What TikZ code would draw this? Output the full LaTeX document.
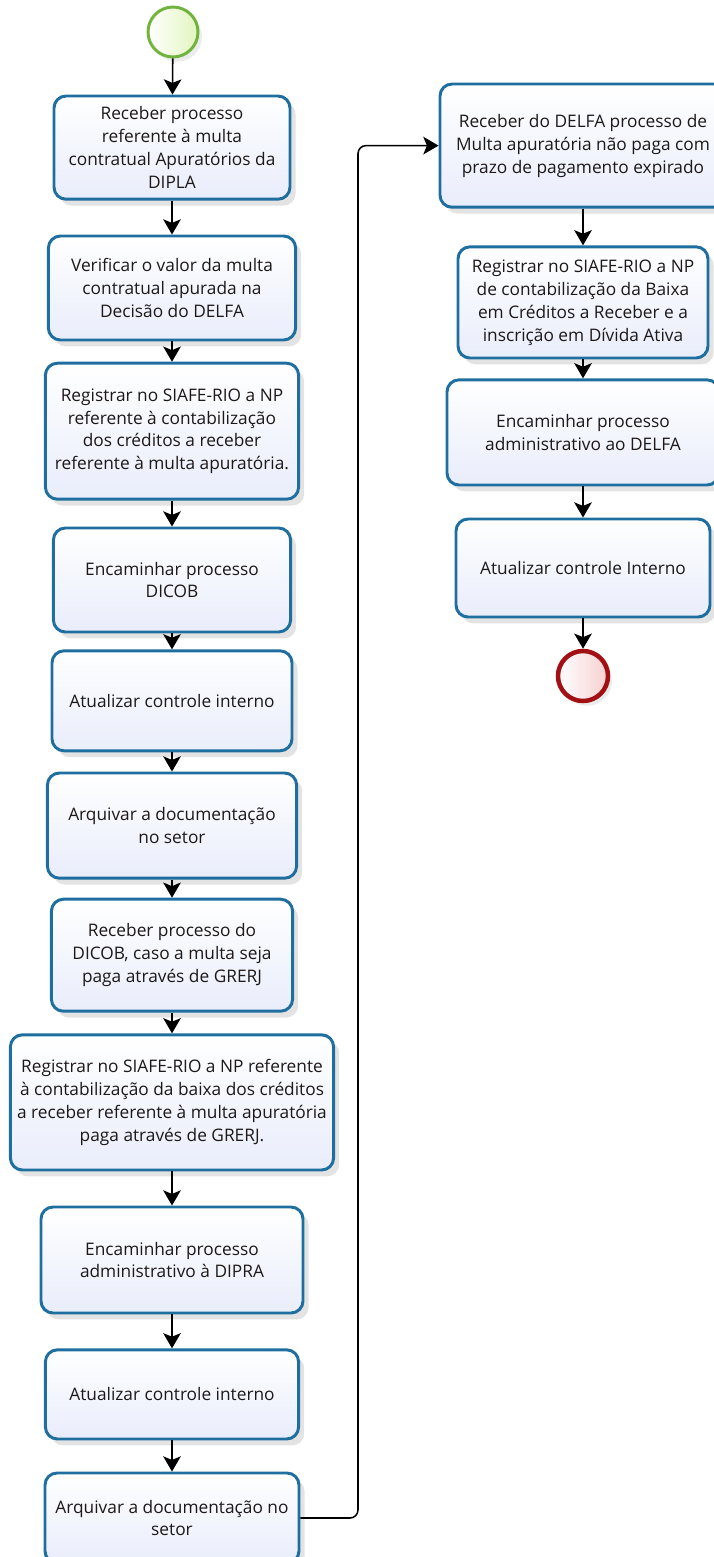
\documentclass[tikz,border=0pt]{standalone}
\usepackage{fontspec}
\setmainfont{Open Sans}
\usepackage{tikz}
\usetikzlibrary{positioning,arrows.meta,shadows}

\definecolor{taskline}{RGB}{31,110,160}
\definecolor{taskfill}{RGB}{233,237,251}
\definecolor{startline}{RGB}{112,180,62}
\definecolor{startfill}{RGB}{226,245,190}
\definecolor{endline}{RGB}{162,16,20}
\definecolor{endfill}{RGB}{246,208,208}
\definecolor{txt}{RGB}{30,24,24}

\begin{document}
\begin{tikzpicture}[
    task/.style    = {rectangle, rounded corners=0.3cm, draw=taskline, line width=2.1pt,
                      top color=white, bottom color=taskfill, align=center, inner sep=2pt,
                      text=txt, font=\fontsize{12.3}{16.3}\selectfont,
                      drop shadow={shadow xshift=0.14cm, shadow yshift=-0.16cm, opacity=0.22}},
    startev/.style = {circle, draw=startline, line width=2.1pt, minimum size=1.25cm,
                      inner sep=0pt, left color=white, right color=startfill,
                      drop shadow={shadow xshift=0.1cm, shadow yshift=-0.12cm, opacity=0.15}},
    endev/.style   = {circle, draw=endline, line width=3.2pt, minimum size=1.25cm,
                      inner sep=0pt, left color=white, right color=endfill,
                      drop shadow={shadow xshift=0.1cm, shadow yshift=-0.12cm, opacity=0.15}},
    flow/.style    = {-{Stealth[length=3.8mm, width=4.4mm, inset=0.9mm]}, line width=1.1pt, color=black},
]

\useasboundingbox (0,0) rectangle (17.825,-38.925);

% --- left column ---
\node[startev] (start) at (4.325, -0.80) {};
\node[task, minimum width=5.90cm, minimum height=2.58cm] (b1) at (4.3, -3.69)
    {Receber processo\\referente à multa\\contratual Apuratórios da\\DIPLA};
\node[task, minimum width=6.18cm, minimum height=2.60cm] (b2) at (4.3, -7.20)
    {Verificar o valor da multa\\contratual apurada na\\Decisão do DELFA};
\node[task, minimum width=6.33cm, minimum height=3.40cm] (b3) at (4.3, -10.78)
    {Registrar no SIAFE-RIO a NP\\referente à contabilização\\dos créditos a receber\\referente à multa apuratória.};
\node[task, minimum width=5.93cm, minimum height=2.60cm] (b4) at (4.3, -14.50)
    {Encaminhar processo\\DICOB};
\node[task, minimum width=6.00cm, minimum height=2.50cm] (b5) at (4.3, -17.52)
    {Atualizar controle interno};
\node[task, minimum width=6.23cm, minimum height=2.63cm] (b6) at (4.3, -20.64)
    {Arquivar a documentação\\no setor};
\node[task, minimum width=6.03cm, minimum height=2.80cm] (b7) at (4.3, -23.88)
    {Receber processo do\\DICOB, caso a multa seja\\paga através de GRERJ};
\node[task, minimum width=8.08cm, minimum height=3.38cm] (b8) at (4.3, -27.56)
    {Registrar no SIAFE-RIO a NP referente\\à contabilização da baixa dos créditos\\a receber referente à multa apuratória\\paga através de GRERJ.};
\node[task, minimum width=6.55cm, minimum height=2.65cm] (b9) at (4.3, -31.50)
    {Encaminhar processo\\administrativo à DIPRA};
\node[task, minimum width=6.33cm, minimum height=2.23cm] (b10) at (4.3, -34.86)
    {Atualizar controle interno};
\node[task, minimum width=6.35cm, minimum height=2.25cm] (b11) at (4.3, -37.95)
    {Arquivar a documentação no\\setor};

% --- right column ---
\node[task, minimum width=7.15cm, minimum height=3.08cm] (r1) at (14.575, -3.64)
    {Receber do DELFA processo de\\Multa apuratória não paga com\\prazo de pagamento expirado};
\node[task, minimum width=6.25cm, minimum height=2.78cm] (r2) at (14.575, -7.56)
    {Registrar no SIAFE-RIO a NP\\de contabilização da Baixa\\em Créditos a Receber e a\\inscrição em Dívida Ativa};
\node[task, minimum width=6.80cm, minimum height=2.63cm] (r3) at (14.575, -10.81)
    {Encaminhar processo\\administrativo ao DELFA};
\node[task, minimum width=6.35cm, minimum height=2.45cm] (r4) at (14.575, -14.20)
    {Atualizar controle Interno};
\node[endev] (finish) at (14.575, -16.90) {};

% --- sequence flows ---
\draw[flow] (start) -- (b1);
\draw[flow] (b1) -- (b2);
\draw[flow] (b2) -- (b3);
\draw[flow] (b3) -- (b4);
\draw[flow] (b4) -- (b5);
\draw[flow] (b5) -- (b6);
\draw[flow] (b6) -- (b7);
\draw[flow] (b7) -- (b8);
\draw[flow] (b8) -- (b9);
\draw[flow] (b9) -- (b10);
\draw[flow] (b10) -- (b11);

\coordinate (loop) at (8.95, 0);
\draw[flow, rounded corners=0.2cm] (b11.east) -- (b11.east -| loop) -- (r1.west -| loop) -- (r1.west);

\draw[flow] (r1) -- (r2);
\draw[flow] (r2) -- (r3);
\draw[flow] (r3) -- (r4);
\draw[flow] (r4) -- (finish);

\end{tikzpicture}
\end{document}
